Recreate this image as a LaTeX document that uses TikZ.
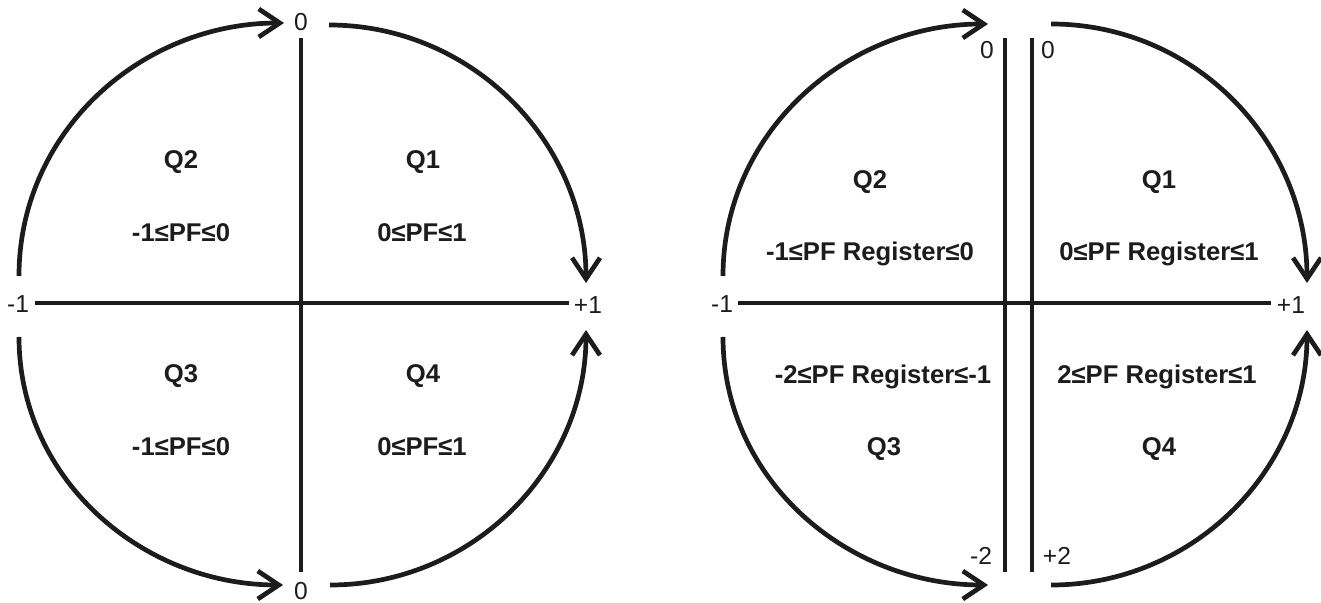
\documentclass[tikz,border=0pt]{standalone}
\usepackage{fontspec}
\setmainfont{Liberation Sans}
\usetikzlibrary{arrows.meta}
\definecolor{inkclr}{RGB}{28,28,28}
\tikzset{
  axisline/.style={draw=inkclr, line width=0.47mm},
  flowarc/.style={draw=inkclr, line width=0.47mm,
                  -{Straight Barb[length=2.1mm,width=2.8mm]}},
  quadlbl/.style={font=\fontsize{7.3}{8.5}\selectfont\bfseries, text=inkclr,
                  inner sep=0pt, text depth=0pt},
  ticklbl/.style={font=\fontsize{7}{8}\selectfont, text=inkclr,
                  inner sep=0pt, text depth=0pt}
}

\begin{document}
\begin{tikzpicture}[x=0.1mm, y=0.1mm]
  \useasboundingbox (0,0) rectangle (1321,603);

  % left wheel
  \node[ticklbl] (lzerotop) at (301,581) {0};
  \node[ticklbl] (lzerobot) at (301,12) {0};
  \node[ticklbl] (lminus) at (18,299) {-1};
  \node[ticklbl] (lplus) at (588,298) {+1};
  \coordinate (lvtop) at (301,565);
  \coordinate (lvbot) at (301,31);
  \coordinate (lhleft) at (35,300);
  \coordinate (lhright) at (569,300);
  \draw[axisline] (lvtop) -- (lvbot);
  \draw[axisline] (lhleft) -- (lhright);
  \coordinate (ltlstart) at (19,327);
  \coordinate (ltlend) at (284,580);
  \coordinate (ltrstart) at (329,578);
  \coordinate (ltrend) at (586,320);
  \coordinate (lblstart) at (19,266);
  \coordinate (lblend) at (283,18);
  \coordinate (lbrstart) at (330,18);
  \coordinate (lbrend) at (586,273);
  \draw[flowarc] (ltlstart) to[out=90,in=180] (ltlend);
  \draw[flowarc] (ltrstart) to[out=0,in=90] (ltrend);
  \draw[flowarc] (lblstart) to[out=-90,in=180] (lblend);
  \draw[flowarc] (lbrstart) to[out=0,in=-90] (lbrend);
  \node[quadlbl] (lqtwo) at (181,443) {Q2};
  \node[quadlbl] (lqone) at (423,443) {Q1};
  \node[quadlbl] (lrangetwo) at (181,370) {-1≤PF≤0};
  \node[quadlbl] (lrangeone) at (422,370) {0≤PF≤1};
  \node[quadlbl] (lqthree) at (181,229) {Q3};
  \node[quadlbl] (lqfour) at (423,229) {Q4};
  \node[quadlbl] (lrangethree) at (181,156) {-1≤PF≤0};
  \node[quadlbl] (lrangefour) at (422,156) {0≤PF≤1};

  % right wheel
  \node[ticklbl] (rzeroleft) at (987,553) {0};
  \node[ticklbl] (rzeroright) at (1048,553) {0};
  \node[ticklbl] (rminustwo) at (981,47) {-2};
  \node[ticklbl] (rplustwo) at (1057,47) {+2};
  \node[ticklbl] (rminus) at (722,299) {-1};
  \node[ticklbl] (rplus) at (1291,298) {+1};
  \coordinate (rvltop) at (1005,565);
  \coordinate (rvlbot) at (1005,31);
  \coordinate (rvrtop) at (1032,565);
  \coordinate (rvrbot) at (1032,31);
  \coordinate (rhleft) at (738,300);
  \coordinate (rhright) at (1271,300);
  \draw[axisline] (rvltop) -- (rvlbot);
  \draw[axisline] (rvrtop) -- (rvrbot);
  \draw[axisline] (rhleft) -- (rhright);
  \coordinate (rtlstart) at (723,327);
  \coordinate (rtlend) at (988,579);
  \coordinate (rtrstart) at (1051,579);
  \coordinate (rtrend) at (1307,320);
  \coordinate (rblstart) at (723,266);
  \coordinate (rblend) at (988,18);
  \coordinate (rbrstart) at (1051,18);
  \coordinate (rbrend) at (1307,273);
  \draw[flowarc] (rtlstart) to[out=90,in=180] (rtlend);
  \draw[flowarc] (rtrstart) to[out=0,in=90] (rtrend);
  \draw[flowarc] (rblstart) to[out=-90,in=180] (rblend);
  \draw[flowarc] (rbrstart) to[out=0,in=-90] (rbrend);
  \node[quadlbl] (rqtwo) at (870,423) {Q2};
  \node[quadlbl] (rqone) at (1159,423) {Q1};
  \node[quadlbl] (rrangetwo) at (870,352) {-1≤PF Register≤0};
  \node[quadlbl] (rrangeone) at (1159,352) {0≤PF Register≤1};
  \node[quadlbl] (rrangethree) at (883,229) {-2≤PF Register≤-1};
  \node[quadlbl] (rrangefour) at (1157,229) {2≤PF Register≤1};
  \node[quadlbl] (rqthree) at (884,156) {Q3};
  \node[quadlbl] (rqfour) at (1159,156) {Q4};
\end{tikzpicture}
\end{document}
